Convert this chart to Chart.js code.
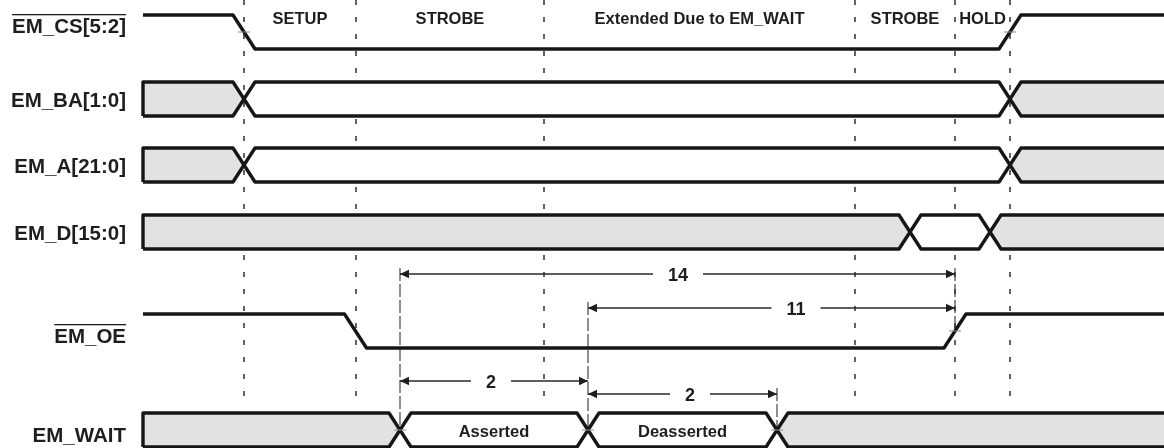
<!DOCTYPE html>
<html>
<head>
<meta charset="utf-8">
<script src="https://cdn.jsdelivr.net/npm/chart.js@4.4.1/dist/chart.umd.min.js"></script>
<style>
  html, body { margin: 0; padding: 0; background: #fff; }
  #wrap { width: 1164px; height: 448px; position: relative; }
</style>
</head>
<body>
<div id="wrap"><canvas id="timing"></canvas></div>
<script>
// Rows of the diagram
const signalNames = ['EM_CS[5:2]', 'EM_BA[1:0]', 'EM_A[21:0]', 'EM_D[15:0]', 'EM_OE', 'EM_WAIT'];
const activeLow = [true, false, false, false, true, false];
const signalRow = [32, 99, 165, 232, 331, 430]; // centre level of each row (y scale)

// Phase boundaries on the time axis and the names between them
const phaseEdges = [244, 356, 544, 855, 955, 1010];
const phaseNames = ['SETUP', 'STROBE', 'Extended Due to EM_WAIT', 'STROBE', 'HOLD'];

// Single line signals: switching times (they start high)
const csEdges = [244, 1010];
const oeEdges = [355.5, 955];

// Bus signals: switching times and state of each span ('x' = grey / don't care)
const baTimes = [244, 1010];
const baStates = ['x', '', 'x'];
const aTimes = [244, 1010];
const aStates = ['x', '', 'x'];
const dTimes = [910, 990];
const dStates = ['x', '', 'x'];
const waitTimes = [400, 588, 777];
const waitStates = ['x', 'Asserted', 'Deasserted', 'x'];

// Dimension arrows
const dimLabels = ['14', '11', '2', '2'];
const dimFrom = [400, 588, 400, 588];
const dimTo = [955, 955, 588, 777];
const dimLevel = [274, 308, 381, 394];
const dimLabelAt = [678, 796, 491, 690];

// Extension lines of the arrows
const extX = [400, 588, 777, 955];
const extTop = [268, 302, 388, 268];
const extEnd = [430, 430, 430, 331];

// ---- layout / style ----
const T0 = 143, T1 = 1174, SLEW = 11, HALF = 17;
const INK = '#161616', GREY = '#e1e2e4';
const labelShift = [-7, 0, 0, 0, 4, 4];
const FONT = '"Liberation Sans", Arial, Helvetica, sans-serif';

const datasets = [];

// dashed phase guides (under everything)
phaseEdges.forEach(x => {
    datasets.push({ data: [{ x: x, y: 0 }, { x: x, y: 405 }], borderColor: '#222', borderWidth: 1.4, borderDash: [5, 12], order: 10 });
});

// long dashed extension lines
extX.forEach((x, i) => {
    datasets.push({ data: [{ x: x, y: extTop[i] }, { x: x, y: extEnd[i] }], borderColor: '#333', borderWidth: 1.1, borderDash: [13, 3], order: 9 });
});

function levelWave(row, edges) {
    const hi = signalRow[row] - HALF, lo = signalRow[row] + HALF;
    let level = hi;
    const pts = [{ x: T0, y: hi }];
    edges.forEach(t => {
        const next = level === hi ? lo : hi;
        pts.push({ x: t - SLEW, y: level }, { x: t + SLEW, y: next });
        level = next;
    });
    pts.push({ x: T1, y: level });
    datasets.push({ data: pts, borderColor: INK, borderWidth: 3.4, order: 2 });
}

const spanLabels = [];
function busSpans(row, times, states) {
    const mid = signalRow[row], top = mid - HALF, bot = mid + HALF;
    const bounds = [T0, ...times, T1];
    states.forEach((st, i) => {
        const s = bounds[i], e = bounds[i + 1];
        const first = i === 0, last = i === states.length - 1;
        const pts = [];
        if (first) pts.push({ x: s, y: bot }, { x: s, y: top });
        else pts.push({ x: s, y: mid }, { x: s + SLEW, y: top });
        if (last) pts.push({ x: e, y: top }, { x: e, y: bot });
        else pts.push({ x: e - SLEW, y: top }, { x: e, y: mid }, { x: e - SLEW, y: bot });
        if (first) pts.push({ x: s, y: bot });
        else pts.push({ x: s + SLEW, y: bot }, { x: s, y: mid });
        datasets.push({ data: pts, fill: 'shape', backgroundColor: st === 'x' ? GREY : '#ffffff', borderColor: INK, borderWidth: 3.4, order: 2 });
        if (st && st !== 'x') spanLabels.push({ text: st, x: (s + e) / 2, y: mid });
    });
}

levelWave(0, csEdges);
busSpans(1, baTimes, baStates);
busSpans(2, aTimes, aStates);
busSpans(3, dTimes, dStates);
levelWave(4, oeEdges);
busSpans(5, waitTimes, waitStates);

// small ticks on the crossing points
const ticks = csEdges.map(t => [0, t]).concat([[4, oeEdges[1]]], waitTimes.map(t => [5, t]));
ticks.forEach(([row, t]) => {
    datasets.push({ data: [{ x: t - 6, y: signalRow[row] }, { x: t + 6, y: signalRow[row] }], borderColor: '#8a8a8a', borderWidth: 1, order: 0 });
});

const overlay = {
    id: 'overlay',
    afterDatasetsDraw(chart) {
        const ctx = chart.ctx;
        const xs = chart.scales.x, ys = chart.scales.y;
        ctx.save();
        ctx.fillStyle = '#1e1e1e';

        // row names
        ctx.font = 'bold 20.5px ' + FONT;
        ctx.textAlign = 'right';
        ctx.textBaseline = 'alphabetic';
        signalNames.forEach((name, i) => {
            const base = ys.getPixelForValue(signalRow[i]) + 8 + labelShift[i];
            ctx.fillText(name, 126, base);
            if (activeLow[i]) {
                const w = ctx.measureText(name).width;
                ctx.fillRect(126 - w, base - 19, w, 1.3);
            }
        });

        // phase names
        ctx.font = 'bold 16.5px ' + FONT;
        ctx.textAlign = 'center';
        phaseNames.forEach((name, i) => {
            const cx = xs.getPixelForValue((phaseEdges[i] + phaseEdges[i + 1]) / 2);
            ctx.fillText(name, cx, 24);
        });

        // span labels inside the bus
        spanLabels.forEach(l => {
            ctx.fillText(l.text, xs.getPixelForValue(l.x), ys.getPixelForValue(l.y) + 7);
        });

        // dimension arrows
        ctx.strokeStyle = '#2a2a2a';
        ctx.lineWidth = 1.3;
        ctx.font = 'bold 18px ' + FONT;
        dimLabels.forEach((txt, i) => {
            const x0 = xs.getPixelForValue(dimFrom[i]), x1 = xs.getPixelForValue(dimTo[i]);
            const y = ys.getPixelForValue(dimLevel[i]);
            const lx = xs.getPixelForValue(dimLabelAt[i]);
            const gap = ctx.measureText(txt).width / 2 + 15;
            ctx.beginPath();
            ctx.moveTo(x0, y); ctx.lineTo(lx - gap, y);
            ctx.moveTo(lx + gap, y); ctx.lineTo(x1, y);
            ctx.stroke();
            ctx.beginPath();
            ctx.moveTo(x0, y); ctx.lineTo(x0 + 9, y - 4.2); ctx.lineTo(x0 + 9, y + 4.2); ctx.closePath();
            ctx.moveTo(x1, y); ctx.lineTo(x1 - 9, y - 4.2); ctx.lineTo(x1 - 9, y + 4.2); ctx.closePath();
            ctx.fill();
            ctx.fillText(txt, lx, y + 7);
        });
        ctx.restore();
    }
};

new Chart(document.getElementById('timing'), {
    type: 'scatter',
    data: { datasets: datasets },
    options: {
        responsive: true,
        maintainAspectRatio: false,
        animation: false,
        showLine: true,
        elements: {
            point: { radius: 0, hoverRadius: 0 },
            line: { tension: 0, borderJoinStyle: 'round', borderCapStyle: 'butt' }
        },
        layout: { padding: 0 },
        plugins: { legend: { display: false }, tooltip: { enabled: false } },
        scales: {
            x: { type: 'linear', min: 0, max: 1164, display: false },
            y: { type: 'linear', min: 0, max: 448, reverse: true, display: false }
        }
    },
    plugins: [overlay]
});
</script>
</body>
</html>
